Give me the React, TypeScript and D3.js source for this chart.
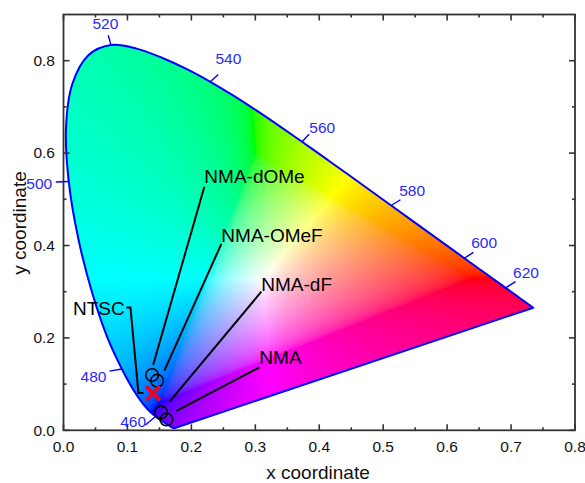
import React, { useMemo } from "react";
import * as d3 from "d3";

const W = 585, H = 483;
const FONT = "'Liberation Sans', Arial, sans-serif";
const BLUE = "#2a2aff";
const xDomain = [0, 0.8];
const yDomain = [0, 0.9];
const xMajor = [0, 0.1, 0.2, 0.3, 0.4, 0.5, 0.6, 0.7, 0.8];
const xMinor = [0.05, 0.15, 0.25, 0.35, 0.45, 0.55, 0.65, 0.75];
const yMajor = [0, 0.2, 0.4, 0.6, 0.8];
const yMinor = [0.1, 0.3, 0.5, 0.7];

// CIE 1931 spectral locus, 380..650 nm by 5 nm and then 700 nm
const locusX = [.1741,.1740,.1738,.1736,.1733,.1730,.1726,.1721,.1714,.1703,.1689,.1669,.1644,.1611,.1566,.1510,.1440,.1355,.1241,.1096,.0913,.0687,.0454,.0235,.0082,.0039,.0139,.0389,.0743,.1142,.1547,.1929,.2296,.2658,.3016,.3373,.3731,.4087,.4441,.4788,.5125,.5448,.5752,.6029,.6270,.6482,.6658,.6801,.6915,.7006,.7079,.7140,.7190,.7230,.7260,.7347];
const locusY = [.0050,.0050,.0049,.0049,.0048,.0048,.0048,.0048,.0051,.0058,.0069,.0086,.0109,.0138,.0177,.0227,.0297,.0399,.0578,.0868,.1327,.2007,.2950,.4127,.5384,.6548,.7502,.8120,.8338,.8262,.8059,.7816,.7543,.7243,.6923,.6589,.6245,.5896,.5547,.5202,.4866,.4544,.4242,.3965,.3725,.3514,.3340,.3197,.3083,.2993,.2920,.2859,.2809,.2770,.2740,.2653];

const waveLabels = ["460", "480", "500", "520", "540", "560", "580", "600", "620"];
const waveX = [.1440, .0913, .0082, .0743, .2296, .3731, .5125, .6270, .6915];
const waveY = [.0297, .1327, .5384, .8338, .7543, .6245, .4866, .3725, .3083];
const waveTickX = [.128, .072, -.012, .070, .242, .384, .527, .641, .707];
const waveTickY = [.0115, .128, .5375, .855, .770, .641, .499, .385, .322];
const waveTextX = [.109, .047, -.038, .0656, .2578, .4047, .5453, .6578, .7234];
const waveTextY = [.0197, .1155, .5335, .880, .8050, .6550, .5200, .4055, .3415];

const sampleNames = ["NMA-dOMe", "NMA-OMeF", "NMA-dF", "NMA"];
const sampleX = [.1386, .1464, .1527, .1609];
const sampleY = [.1197, .1074, .0387, .0236];
const leaderX0 = [.2203, .2469, .3094, .3063];
const leaderY0 = [.5273, .4035, .3000, .1360];
const leaderX1 = [.1402, .1578, .1656, .1766];
const leaderY1 = [.1413, .1290, .0615, .0420];
const nameX = [.2203, .2469, .3094, .3063];
const nameY = [.5359, .4082, .3022, .1429];

const ntscX = 0.14, ntscY = 0.08;
const ntscLeaderX = [.0984, .1047, .1172, .1250];
const ntscLeaderY = [.2658, .2658, .0810, .0810];

const margin = { left: 63.5, right: 575, top: 14.5, bottom: 430.3 };
const x = d3.scaleLinear().domain(xDomain).range([margin.left, margin.right]);
const y = d3.scaleLinear().domain(yDomain).range([margin.bottom, margin.top]);

function gamma(c: number) {
  return c <= 0.0031308 ? 12.92 * c : 1.055 * Math.pow(c, 1 / 2.4) - 0.055;
}

function renderFill(): string {
  const c = document.createElement("canvas");
  c.width = W; c.height = H;
  const ctx = c.getContext("2d")!;
  const img = ctx.createImageData(W, H);
  for (let py = 0; py < H; py++) {
    for (let px = 0; px < W; px++) {
      const cx = x.invert(px + 0.5), cy = y.invert(py + 0.5), cz = 1 - cx - cy;
      let r = 3.2406 * cx - 1.5372 * cy - 0.4986 * cz;
      let g = -0.9689 * cx + 1.8758 * cy + 0.0415 * cz;
      let b = 0.0557 * cx - 0.204 * cy + 1.057 * cz;
      const w = Math.min(0, r, g, b);
      r -= w; g -= w; b -= w;
      const m = Math.max(r, g, b) || 1;
      const i = (py * W + px) * 4;
      img.data[i] = 255 * gamma(r / m);
      img.data[i + 1] = 255 * gamma(g / m);
      img.data[i + 2] = 255 * gamma(b / m);
      img.data[i + 3] = 255;
    }
  }
  ctx.putImageData(img, 0, 0);
  return c.toDataURL("image/png");
}

export default function App() {
  const href = useMemo(renderFill, []);
  const pts = locusX.map((v, i) => [x(v), y(locusY[i])] as [number, number]);
  const locus = (d3.line().curve(d3.curveCatmullRom.alpha(0.5))(pts) as string) + "Z";
  const frameColor = "#333";
  const tick = (k: string, x1: number, y1: number, x2: number, y2: number) => (
    <line key={k} x1={x1} y1={y1} x2={x2} y2={y2} stroke={frameColor} strokeWidth={1.6} />
  );
  const ml = margin.left, mr = margin.right, mt = margin.top, mb = margin.bottom;
  return (
    <svg width={W} height={H} style={{ position: "absolute", left: 0, top: 0 }} fontFamily={FONT}>
      <defs>
        <clipPath id="loc"><path d={locus} /></clipPath>
      </defs>
      <image href={href} x={0} y={0} width={W} height={H} clipPath="url(#loc)" />
      <path d={locus} fill="none" stroke="#0000ff" strokeWidth={2} strokeLinejoin="round" />

      <rect x={ml} y={mt} width={mr - ml} height={mb - mt} fill="none" stroke={frameColor} strokeWidth={1.8} />
      {xMajor.map((v) => (
        <g key={"xM" + v}>
          {tick("a", x(v), mb, x(v), mb - 6)}
          {tick("b", x(v), mt, x(v), mt + 6)}
          <text x={x(v)} y={452} textAnchor="middle" fontSize={15.5} fill="#111">{v.toFixed(1)}</text>
        </g>
      ))}
      {xMinor.map((v) => (
        <g key={"xm" + v}>
          {tick("a", x(v), mb, x(v), mb - 3)}
          {tick("b", x(v), mt, x(v), mt + 3)}
        </g>
      ))}
      {yMajor.map((v) => (
        <g key={"yM" + v}>
          {tick("a", ml, y(v), ml + 6, y(v))}
          {tick("b", mr, y(v), mr - 6, y(v))}
          <text x={55} y={y(v) + 5.3} textAnchor="end" fontSize={15.5} fill="#111">{v.toFixed(1)}</text>
        </g>
      ))}
      {yMinor.map((v) => (
        <g key={"ym" + v}>
          {tick("a", ml, y(v), ml + 3, y(v))}
          {tick("b", mr, y(v), mr - 3, y(v))}
        </g>
      ))}

      <text x={318} y={478.9} textAnchor="middle" fontSize={19} fill="#111">x coordinate</text>
      <text transform="translate(26,223) rotate(-90)" textAnchor="middle" fontSize={19} fill="#111">y coordinate</text>

      {waveLabels.map((l, i) => (
        <g key={l}>
          <line x1={x(waveX[i])} y1={y(waveY[i])} x2={x(waveTickX[i])} y2={y(waveTickY[i])} stroke="#0000ff" strokeWidth={1.4} />
          <text x={x(waveTextX[i])} y={y(waveTextY[i]) + 5.5} textAnchor="middle" fontSize={15.5} fill={BLUE}>{l}</text>
        </g>
      ))}

      {sampleNames.map((n, i) => (
        <g key={n}>
          <line x1={x(leaderX0[i])} y1={y(leaderY0[i])} x2={x(leaderX1[i])} y2={y(leaderY1[i])} stroke="#000" strokeWidth={2} />
          <circle cx={x(sampleX[i])} cy={y(sampleY[i])} r={6.3} fill="none" stroke="#000" strokeWidth={1.6} />
          <text x={x(nameX[i])} y={y(nameY[i])} fontSize={19} fill="#000">{n}</text>
        </g>
      ))}

      <path
        d={d3.line()(ntscLeaderX.map((v, i) => [x(v), y(ntscLeaderY[i])] as [number, number])) as string}
        fill="none" stroke="#000" strokeWidth={2}
      />
      <text x={73} y={315} fontSize={19} fill="#000">NTSC</text>
      <g transform={`translate(${x(ntscX)},${y(ntscY)})`} stroke="#f5001e" strokeWidth={3.6}>
        <line x1={-7} y1={-7} x2={7} y2={7} />
        <line x1={-7} y1={7} x2={7} y2={-7} />
      </g>
    </svg>
  );
}
